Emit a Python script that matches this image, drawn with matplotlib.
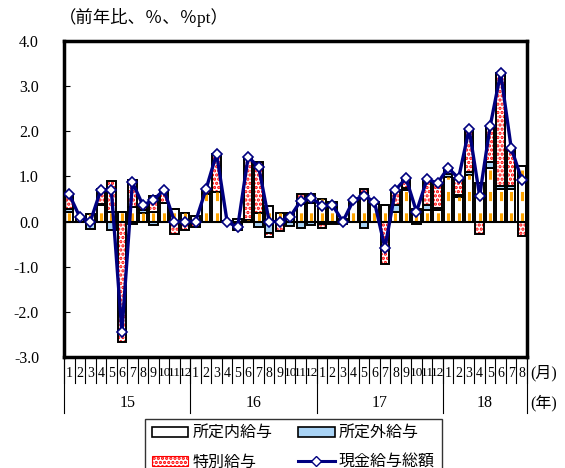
import numpy as np
import matplotlib
matplotlib.use("Agg")
import matplotlib.pyplot as plt
from matplotlib.patches import Patch
from matplotlib.lines import Line2D
from matplotlib.transforms import blended_transform_factory

plt.rcParams["font.family"] = ["Liberation Serif", "Noto Sans CJK JP"]
plt.rcParams["axes.unicode_minus"] = False
plt.rcParams["hatch.linewidth"] = 1.6

YEARS = ["15", "16", "17", "18"]
MONTHS_PER_YEAR = [12, 12, 12, 8]

# 所定内給与
scheduled = [
    0.22, 0.10, 0.17, 0.37, 0.22, 0.22, 0.33, 0.19, 0.22, 0.41, 0.27, 0.18,
    0.12, 0.60, 0.66, 0.02, 0.05, 0.04, 0.20, 0.35, 0.20, 0.20, 0.40, 0.42,
    0.50, 0.33, 0.06, 0.45, 0.63, 0.38, 0.36, 0.22, 0.70, 0.28, 0.26, 0.26,
    0.98, 0.55, 1.03, 0.85, 1.18, 0.72, 0.73, 1.24,
]
# 所定外給与
overtime = [
    0.06, 0.00, -0.17, 0.02, -0.18, 0.00, -0.05, 0.07, -0.08, 0.00, 0.00, 0.00,
    -0.04, 0.00, 0.00, 0.00, -0.05, 0.00, -0.12, -0.26, -0.01, -0.09, -0.15, -0.07,
    -0.05, -0.06, -0.02, 0.00, -0.15, 0.00, 0.00, 0.15, 0.05, 0.00, 0.10, 0.03,
    0.07, 0.04, 0.07, 0.00, 0.15, 0.06, 0.06, 0.00,
]
# 特別給与
special = [
    0.32, 0.00, 0.00, 0.33, 0.67, -2.67, 0.58, 0.10, 0.35, 0.29, -0.27, -0.18,
    -0.08, 0.12, 0.84, -0.02, -0.13, 1.39, 1.13, -0.08, -0.19, 0.00, 0.21, 0.18,
    -0.10, 0.10, -0.04, 0.02, 0.09, 0.06, -0.94, 0.33, 0.21, -0.06, 0.58, 0.56,
    0.14, 0.37, 0.95, -0.28, 0.78, 2.51, 0.84, -0.31,
]
# 現金給与総額
total = [
    0.60, 0.10, 0.00, 0.70, 0.70, -2.45, 0.87, 0.36, 0.48, 0.70, 0.00, 0.00,
    0.00, 0.72, 1.50, 0.00, -0.13, 1.43, 1.21, 0.00, 0.00, 0.11, 0.46, 0.53,
    0.35, 0.37, 0.00, 0.47, 0.57, 0.44, -0.58, 0.70, 0.96, 0.22, 0.94, 0.85,
    1.19, 0.96, 2.05, 0.57, 2.11, 3.29, 1.63, 0.93,
]

ORANGE = "#ffa500"
BLUE = "#a9d3f5"
RED = "#ff0000"
NAVY = "#000080"
WIDTH = 0.8


def stack(series_list):
    pos = np.zeros(len(series_list[0]))
    neg = np.zeros(len(series_list[0]))
    bottoms = []
    for s in series_list:
        s = np.asarray(s)
        b = np.where(s >= 0, pos, neg)
        bottoms.append(b)
        pos = pos + np.where(s >= 0, s, 0)
        neg = neg + np.where(s < 0, s, 0)
    return bottoms


def main():
    fig = plt.figure(figsize=(5.65, 4.68), dpi=100)
    ax = fig.add_axes([0.1133, 0.2372, 0.8194, 0.6752])

    n = len(total)
    x = np.arange(n)
    b_sch, b_ot, b_sp = stack([scheduled, overtime, special])

    ax.bar(x, scheduled, WIDTH, bottom=b_sch, color="white",
           edgecolor="black", linewidth=1.4, zorder=2)
    ax.vlines(x, b_sch, np.asarray(b_sch) + np.asarray(scheduled),
              colors=ORANGE, linewidth=2.2, linestyles=(0, (3, 4)), zorder=3)
    ax.bar(x, overtime, WIDTH, bottom=b_ot, color=BLUE,
           edgecolor="black", linewidth=1.4, zorder=2)
    ax.bar(x, special, WIDTH, bottom=b_sp, color="white",
           edgecolor=RED, hatch="....", linewidth=0, zorder=2)
    ax.bar(x, special, WIDTH, bottom=b_sp, color="none",
           edgecolor="black", linewidth=1.4, zorder=2.5)

    ax.axhline(0, color="black", linewidth=1.5, zorder=3)
    ax.plot(x, total, color=NAVY, linewidth=2.4, marker="D", markersize=5.5,
            markerfacecolor="white", markeredgecolor=NAVY, markeredgewidth=1.2,
            zorder=5)

    ax.set_xlim(-0.5, n - 0.5)
    ax.set_ylim(-3.0, 4.0)
    ax.set_yticks(np.arange(-3, 4.01, 1.0))
    ax.set_yticklabels([f"{v:.1f}" for v in np.arange(-3, 4.01, 1.0)], fontsize=11.5)
    ax.tick_params(axis="y", direction="in", length=4, pad=18, left=True)
    ax.set_xticks([])
    for spine in ax.spines.values():
        spine.set_linewidth(2.5)
        spine.set_color("black")

    # category axis below the plot
    trans = blended_transform_factory(ax.transData, ax.transAxes)
    month_len = -0.082
    year_len = -0.177
    k = 0
    edges = [-0.5]
    for year, count in zip(YEARS, MONTHS_PER_YEAR):
        for m in range(1, count + 1):
            ax.text(k, -0.052, str(m), transform=trans, ha="center",
                    va="center", fontsize=10 if m < 10 else 9.5)
            k += 1
        ax.text(k - count / 2 - 0.5, -0.145, year, transform=trans,
                ha="center", va="center", fontsize=11.5)
        edges.append(k - 0.5)
    for e in np.arange(-0.5, n, 1.0):
        ax.plot([e, e], [0, month_len], transform=trans, color="black",
                linewidth=0.8, clip_on=False)
    for e in edges:
        ax.plot([e, e], [0, year_len], transform=trans, color="black",
                linewidth=0.8, clip_on=False)
    ax.text(1.006, -0.052, "(月)", transform=ax.transAxes, ha="left",
            va="center", fontsize=11.5)
    ax.text(1.006, -0.145, "(年)", transform=ax.transAxes, ha="left",
            va="center", fontsize=11.5)

    fig.text(0.105, 0.962, "（前年比、％、％pt）", ha="left", va="center",
             fontsize=12.5)

    handles = [
        Patch(facecolor="white", edgecolor="black", linewidth=1.2),
        Patch(facecolor="white", edgecolor=RED, hatch="....", linewidth=0.8),
        Patch(facecolor=BLUE, edgecolor="black", linewidth=1.2),
        Line2D([], [], color=NAVY, linewidth=2.2, marker="D", markersize=5,
               markerfacecolor="white", markeredgecolor=NAVY),
    ]
    labels = ["所定内給与", "特別給与", "所定外給与", "現金給与総額"]
    leg = fig.legend(handles, labels, loc="upper center",
                     bbox_to_anchor=(0.519, 0.105), ncol=2, fontsize=11.5,
                     frameon=True, fancybox=False, edgecolor="black",
                     handlelength=2.3, handleheight=0.6, labelspacing=0.8,
                     columnspacing=1.6, handletextpad=0.25, borderpad=0.45,
                     borderaxespad=0)
    leg.get_frame().set_linewidth(1.0)

    fig.savefig("out.png", dpi=100)
    plt.close(fig)


if __name__ == "__main__":
    main()
